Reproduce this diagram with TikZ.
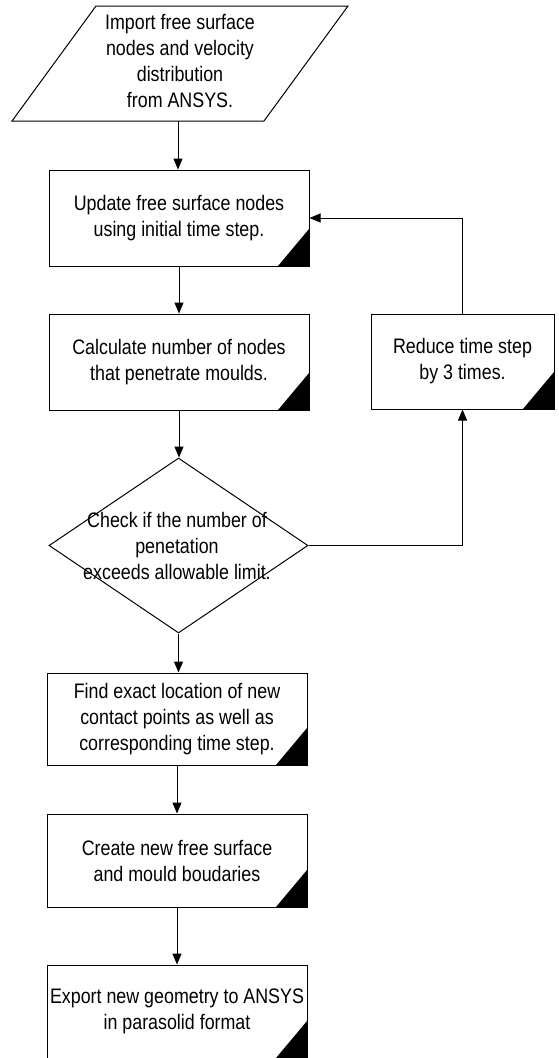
\documentclass[tikz,border=0pt]{standalone}
\usepackage{fontspec}
\newfontfamily\gul[FakeStretch=0.85]{Liberation Sans}
\usetikzlibrary{shapes.geometric,arrows.meta}
\begin{document}
\begin{tikzpicture}[x=1pt,y=-1pt,
  line width=1pt,
  txt/.style={font=\gul\fontsize{21}{26}\selectfont, align=center, inner sep=0pt},
  procbox/.style={draw, txt, minimum width=260pt, minimum height=94pt,
    path picture={\fill (path picture bounding box.south east) -- ++(-31pt,0pt) -- ++(31pt,37pt) -- cycle;}},
  flow/.style={-{Triangle[length=11pt,width=9pt]}},
]
\useasboundingbox[fill=white] (0,0) rectangle (558,1058);
% input parallelogram
\draw (12,121) -- (264,121) -- (348,6) -- (96,6) -- cycle;
\node[txt] (imp) at (180,61) {Import free surface\\nodes and velocity\\distribution\\from ANSYS.};
\coordinate (impb) at (178,121);
% process boxes
\node[procbox, minimum height=96pt] (upd) at (179,218) {Update free surface nodes\\using initial time step.};
\node[procbox, minimum height=96pt] (calc) at (179,362) {Calculate number of nodes\\that penetrate moulds.};
\node[procbox, minimum width=183pt, minimum height=95pt] (red) at (462.5,361.5) {Reduce time step\\by 3 times.};
\node[draw, diamond, minimum width=259pt, minimum height=175pt, inner sep=0pt] (chk) at (178.5,545.5) {};
\node[txt] (chkt) at (177,546) {Check if the number of\\penetation\\exceeds allowable limit.};
\node[procbox, minimum height=92pt] (find) at (177,719) {Find exact location of new\\contact points as well as\\corresponding time step.};
\node[procbox, minimum height=93pt] (cre) at (177,860.5) {Create new free surface\\and mould boudaries};
\node[procbox, minimum height=93pt] (exp) at (177,1011.5) {Export new geometry to ANSYS\\in parasolid format};
% connectors
\draw[flow] (impb) -- (impb |- upd.north);
\draw[flow] (upd) -- (calc);
\draw[flow] (calc.south) -- (calc.south |- chk.north);
\draw[flow] (chk.south) -- (chk.south |- find.north);
\draw[flow] (find) -- (cre);
\draw[flow] (cre) -- (exp);
\draw[flow] (chk.east) -| (red.south);
\draw[flow] (red.north) |- (upd.east);
\end{tikzpicture}
\end{document}
